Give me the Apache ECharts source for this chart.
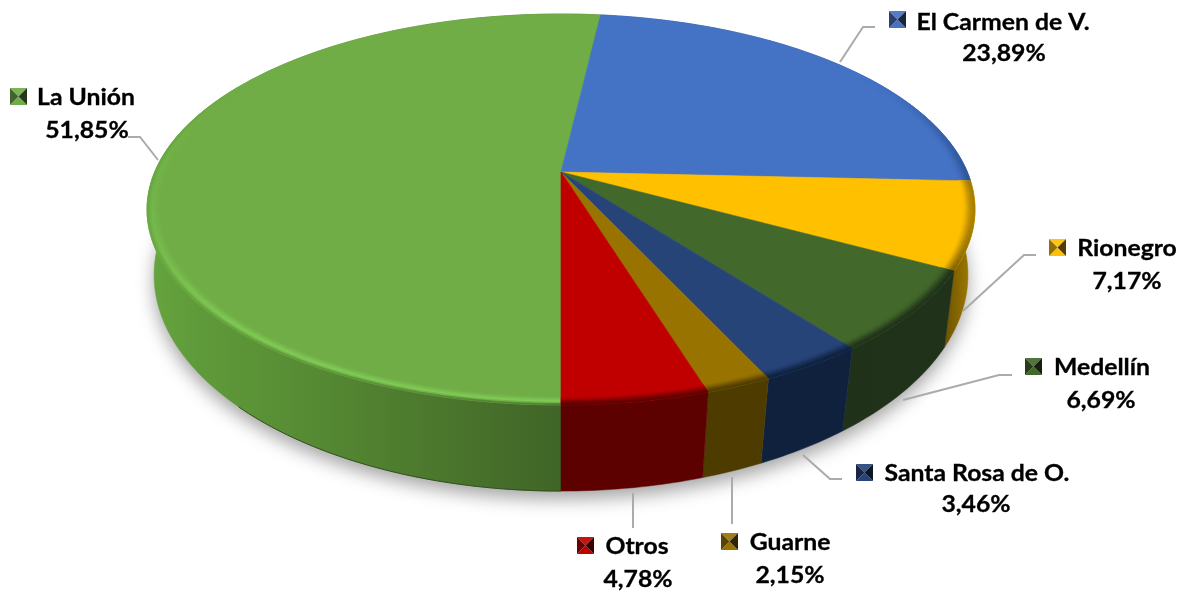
<!DOCTYPE html>
<html><head><meta charset="utf-8">
<script src="https://cdn.jsdelivr.net/npm/echarts@6/dist/echarts.min.js"></script>
<style>html,body{margin:0;padding:0;background:#fff}#c{width:1189px;height:594px}</style></head>
<body><div id="c"></div>
<script>
const categories = ['La Unión','El Carmen de V.','Rionegro','Medellín','Santa Rosa de O.','Guarne','Otros'];
const shares = [51.85,23.89,7.17,6.69,3.46,2.15,4.78];

const faceColors = ['#70AD47','#4472C4','#FFC000','#43682B','#264478','#997300','#C00000'];
const wallStops = [
  [[147,'#66a53f'],[200,'#5f9a3a'],[300,'#578c34'],[430,'#4c782d'],[561,'#406527'],[975,'#406527']],
  [[147,'#29477d'],[975,'#2f5597']],
  [[147,'#6e5300'],[945,'#6e5300'],[975,'#a88000']],
  [[147,'#1e2e12'],[975,'#20321a']],
  [[147,'#0f213d'],[975,'#0f213d']],
  [[147,'#4d3b00'],[975,'#4d3b00']],
  [[147,'#5d0000'],[975,'#5d0000']]
];
// label layout: text centres, legend key left/top, leader path
const labelLayout = [
  {name:[86,98],pct:[87,131],key:[10,88],leader:[[128,137],[140,137],[158,160]]},
  {name:[1003,23],pct:[1004,54],key:[889,11],leader:[[875,27],[863,27],[840,62]]},
  {name:[1127,249],pct:[1127,282],key:[1049,239],leader:[[1036,255],[1024,255],[963,311]]},
  {name:[1102,368],pct:[1101,401],key:[1025,358],leader:[[1012,375],[999,375],[903,400]]},
  {name:[977,474],pct:[976,505],key:[856,464],leader:[[842,479],[830,479],[803,455]]},
  {name:[790,543],pct:[790,576],key:[721,533],leader:[[732,524],[732,477]]},
  {name:[637,547],pct:[638,580],key:[577,537],leader:[[633,528],[633,493]]}
];
const topPlane = {cx:561,cy:172,A:406.3,B:188.3,k:0.1918};
const lowPlane = {cx:561,cy:238.3,A:401,B:209.8,k:0.17};
const RIM = 0.97, START = 180, FONT = '700 22.5px Lato, Carlito, sans-serif', TEXT_STRETCH = 1.1;

const total = shares.reduce((a,b)=>a+b,0);
let acc = START;
const spans = shares.map(v=>{const s=[acc,acc+v/total*360];acc=s[1];return s;});

function project(p,r,deg){
  const t=deg*Math.PI/180,u=r*Math.sin(t),v=-r*Math.cos(t),w=1-p.k*v;
  return [p.cx+p.A*u/w,p.cy+p.B*v/w];
}
function arc(p,r,a,b,step){
  const n=Math.max(1,Math.ceil((b-a)/(step||1))),o=[];
  for(let i=0;i<=n;i++)o.push(project(p,r,a+(b-a)*i/n));
  return o;
}
const hex=c=>[1,3,5].map(i=>parseInt(c.substr(i,2),16));
const mix=(a,b,f)=>{const A=hex(a),B=hex(b);return '#'+A.map((x,i)=>Math.round(x+(B[i]-x)*f).toString(16).padStart(2,'0')).join('');};
function wallAt(i,x){
  const s=wallStops[i];
  if(x<=s[0][0])return s[0][1];
  for(let j=1;j<s.length;j++)if(x<=s[j][0])return mix(s[j-1][1],s[j][1],(x-s[j-1][0])/(s[j][0]-s[j-1][0]));
  return s[s.length-1][1];
}
const smooth=(a,b,x)=>{const t=Math.min(1,Math.max(0,(x-a)/(b-a)));return t*t*(3-2*t);};
const norm=d=>((d%360)+360)%360;
const strength=d=>{d=norm(d);return d<180?smooth(55,95,d):1-smooth(265,300,d);};

function wallGradient(i){
  return {type:'linear',x:147,y:0,x2:975,y2:0,global:true,
    colorStops:wallStops[i].map(s=>({offset:(s[0]-147)/828,color:s[1]}))};
}
function renderShadow(params){
  if(params.dataIndex!==0)return;
  return {type:'polygon',shape:{points:arc(lowPlane,1,0,360,2)},
    style:{fill:'#cfcfd2',shadowBlur:18,shadowColor:'rgba(0,0,0,0.36)',shadowOffsetY:8}};
}
function renderWall(params){
  const i=params.dataIndex,s=spans[i];
  const top=arc(topPlane,1,s[0],s[1]),low=arc(lowPlane,1,s[0],s[1]).reverse();
  const g=wallGradient(i);
  const kids=[{type:'polygon',shape:{points:top.concat(low)},style:{fill:g,stroke:g,lineWidth:0.5}}];
  const a=Math.max(s[0],140),b=Math.min(s[1],225);
  if(b>a)kids.push({type:'polyline',shape:{points:arc(lowPlane,1,a,b)},style:{fill:null,stroke:mix(wallAt(i,561),'#000000',0.22),lineWidth:1}});
  return {type:'group',children:kids};
}
function renderFace(params){
  const i=params.dataIndex,s=spans[i],c=faceColors[i];
  const pts=[project(topPlane,0,0)].concat(arc(topPlane,1,s[0],s[1]));
  const kids=[{type:'polygon',shape:{points:pts},style:{fill:c,stroke:c,lineWidth:0.6}}];
  const bands=6,step=1.5,n=Math.ceil((s[1]-s[0])/step);
  for(let a=0;a<n;a++){
    const t0=s[0]+(s[1]-s[0])*a/n,t1=s[0]+(s[1]-s[0])*(a+1)/n,tm=norm((t0+t1)/2),st=strength(tm);
    if(st<=0.001)continue;
    const hl=mix('#74b54a','#83cf58',1-smooth(215,270,tm));
    for(let b=0;b<bands;b++){
      const r0=RIM+(1-RIM)*b/bands,r1=RIM+(1-RIM)*(b+1)/bands,f=(b+0.5)/bands;
      const p=[project(topPlane,r0,t0),project(topPlane,r1,t0),project(topPlane,r1,t1),project(topPlane,r0,t1)];
      const wc=wallAt(i,(p[0][0]+p[2][0])/2);
      let col;
      if(i===0){col=f<0.65?mix(c,hl,f/0.65):mix(hl,wc,(f-0.65)/0.35);}
      else col=mix(c,wc,f*f*(3-2*f));
      col=mix(c,col,st);
      kids.push({type:'polygon',shape:{points:p},style:{fill:col,stroke:col,lineWidth:0.5}});
    }
  }
  return {type:'group',children:kids};
}
function label(text,pos){
  return {type:'text',x:pos[0],y:pos[1],scaleX:TEXT_STRETCH,
    style:{x:0,y:0,text,font:FONT,fill:'#000',stroke:'#000',lineWidth:0.3,align:'center',verticalAlign:'middle'}};
}
function renderLabel(params){
  const i=params.dataIndex,L=labelLayout[i],c=faceColors[i],[kx,ky]=L.key,sz=17,m=[kx+sz/2,ky+sz/2];
  const tl=[kx,ky],tr=[kx+sz,ky],br=[kx+sz,ky+sz],bl=[kx,ky+sz];
  const tri=(a,b,col)=>({type:'polygon',shape:{points:[a,b,m]},style:{fill:col}});
  return {type:'group',children:[
    {type:'polyline',shape:{points:L.leader},style:{fill:null,stroke:'#ababab',lineWidth:2}},
    tri(tl,tr,mix(c,'#ffffff',0.08)),
    tri(bl,br,c),
    tri(tl,bl,mix(c,'#000000',0.42)),
    tri(tr,br,mix(c,'#000000',0.68)),
    label(categories[i],L.name),
    label(shares[i].toFixed(2).replace('.',',')+'%',L.pct)
  ]};
}
const data=categories.map((n,i)=>({name:n,value:shares[i]}));
const layer=(name,fn,z)=>({type:'custom',name,coordinateSystem:'none',renderItem:fn,data,z,silent:true,animation:false,clip:false});
const chart=echarts.init(document.getElementById('c'),null,{renderer:'canvas'});
chart.setOption({
  animation:false,backgroundColor:'#ffffff',
  series:[layer('Sombra',renderShadow,1),layer('Lateral',renderWall,2),layer('Cara',renderFace,3),layer('Etiquetas',renderLabel,4)]
});
</script></body></html>
